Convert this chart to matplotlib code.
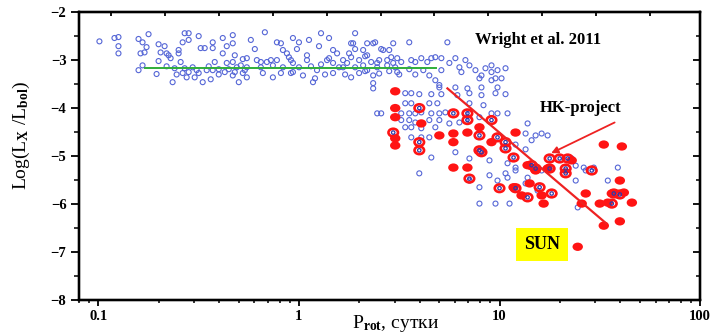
import numpy as np
import matplotlib
matplotlib.use("Agg")
import matplotlib.pyplot as plt
from matplotlib.markers import MarkerStyle
from matplotlib.transforms import Affine2D
from matplotlib.ticker import FixedLocator, MultipleLocator, NullFormatter

# шрифты: жирный Times-подобный
plt.rcParams['font.family'] = ['Liberation Serif', 'DejaVu Serif']
plt.rcParams['font.weight'] = 'bold'
plt.rcParams['mathtext.fontset'] = 'custom'
plt.rcParams['mathtext.rm'] = 'Liberation Serif:bold'
plt.rcParams['mathtext.it'] = 'Liberation Serif:bold'
plt.rcParams['mathtext.bf'] = 'Liberation Serif:bold'

# --- данные: (log10 P_rot, log Lx/Lbol) ---
# Wright et al. 2011, насыщенный режим
wright_saturated = [
    (-0.995, -2.61), (-0.92, -2.54), (-0.90, -2.52), (-0.90, -2.71), (-0.90, -2.86),
    (-0.80, -2.56), (-0.75, -2.46), (-0.78, -2.63), (-0.76, -2.73), (-0.77, -2.84),
    (-0.79, -2.86), (-0.78, -3.11), (-0.80, -3.21), (-0.71, -3.29), (-0.70, -2.67),
    (-0.67, -2.71), (-0.69, -2.84), (-0.66, -2.86), (-0.65, -2.90), (-0.70, -3.02),
    (-0.64, -2.96), (-0.63, -3.46), (-0.57, -2.44), (-0.55, -2.44), (-0.58, -2.63),
    (-0.55, -2.58), (-0.60, -2.79), (-0.60, -2.86), (-0.59, -3.04), (-0.57, -3.17),
    (-0.55, -3.25), (-0.56, -3.36), (-0.50, -2.50), (-0.49, -2.75), (-0.47, -2.75),
    (-0.43, -2.75), (-0.43, -2.63), (-0.38, -2.54), (-0.36, -2.71), (-0.38, -2.86),
    (-0.42, -3.04), (-0.36, -3.06), (-0.43, -3.21), (-0.48, -3.46), (-0.33, -2.48),
    (-0.33, -2.65), (-0.32, -2.90), (-0.33, -3.04), (-0.31, -3.15), (-0.32, -3.25),
    (-0.30, -3.46), (-0.46, -3.21), (-0.51, -3.21), (-0.37, -3.25), (-0.27, -3.21),
    (-0.26, -2.96), (-0.26, -3.36), (-0.62, -3.17), (-0.58, -3.27), (-0.53, -3.15),
    (-0.50, -3.27), (-0.45, -3.13), (-0.40, -3.19), (-0.40, -3.30), (-0.35, -3.19),
    (-0.33, -3.32), (-0.29, -3.11), (-0.28, -3.27), (-0.52, -3.36), (-0.66, -3.13),
    (-0.61, -3.30), (-0.44, -3.40),
    (-0.17, -2.42), (-0.19, -3.04), (-0.18, -3.27), (-0.14, -3.00), (-0.11, -2.63),
    (-0.09, -2.65), (-0.08, -2.79), (-0.06, -2.86), (-0.04, -3.00), (-0.03, -3.25),
    (0.00, -2.63), (-0.01, -2.77), (0.04, -2.90), (0.07, -3.46), (0.08, -3.38),
    (0.11, -2.44), (0.15, -2.54), (0.17, -2.79), (0.14, -3.00), (0.17, -3.27),
    (0.22, -3.15), (0.25, -2.86), (0.28, -2.44), (0.27, -2.65),
    (-0.28, -2.98), (-0.26, -3.15), (-0.21, -3.00), (-0.19, -3.15), (-0.16, -3.04),
    (-0.13, -3.11), (-0.11, -3.00), (-0.08, -3.15), (-0.05, -2.94), (-0.03, -3.06),
    (0.00, -3.15), (-0.04, -3.27), (-0.09, -3.27), (0.04, -3.00), (0.15, -2.96),
    (0.17, -3.06), (0.19, -2.86), (0.20, -3.15), (0.22, -3.00), (0.24, -3.06),
    (0.26, -2.94), (0.28, -3.15), (0.30, -3.00), (0.32, -3.11), (0.34, -3.21),
    (0.36, -3.04), (0.39, -3.15), (0.40, -3.00), (0.44, -3.11), (0.46, -2.94),
    (0.48, -3.15), (0.49, -3.25), (0.28, -2.77), (0.26, -2.65), (0.32, -2.79),
    (0.37, -2.65), (0.41, -2.77), (0.47, -2.65), (0.45, -2.79), (0.06, -3.13),
    (0.09, -3.21), (0.11, -3.09), (0.13, -3.30), (0.02, -3.32), (-0.13, -3.36),
    (0.23, -3.30), (0.30, -3.27), (0.26, -3.36), (0.33, -2.92), (0.10, -2.71),
    (-0.22, -2.77), (-0.24, -2.58), (-0.03, -2.54), (0.05, -2.58),
]

# Wright et al. 2011, ненасыщенный режим
wright_unsaturated = [
    (0.34, -2.65), (0.38, -2.63), (0.34, -2.90), (0.39, -3.06), (0.37, -3.32),
    (0.37, -3.48), (0.37, -3.59), (0.42, -2.79), (0.44, -3.00), (0.47, -3.06),
    (0.49, -2.96), (0.51, -3.04), (0.55, -2.63), (0.56, -3.00), (0.58, -3.04),
    (0.61, -2.96), (0.64, -3.04), (0.66, -2.96), (0.68, -2.94), (0.71, -2.96),
    (0.74, -2.63), (0.71, -3.21), (0.75, -3.06), (0.78, -2.96), (0.80, -3.15),
    (0.81, -3.25), (0.83, -3.00), (0.85, -3.11), (0.88, -3.21), (0.91, -3.32),
    (0.93, -3.17), (0.96, -3.11), (0.96, -3.25), (0.99, -3.21), (1.01, -3.38),
    (1.03, -3.17), (0.96, -3.42), (0.68, -3.42), (0.70, -3.57), (0.33, -3.23),
    (0.40, -3.28), (0.45, -3.23), (0.50, -3.30), (0.55, -3.19), (0.58, -3.30),
    (0.62, -3.21), (0.65, -3.32),
    (0.70, -3.52), (0.78, -3.57), (0.84, -3.59), (0.90, -3.38), (0.91, -3.57),
    (0.98, -3.38), (0.99, -3.57), (0.53, -3.69), (0.56, -3.69), (0.60, -3.71),
    (0.66, -3.71), (0.71, -3.71), (0.79, -3.73), (0.85, -3.69), (0.91, -3.73),
    (0.98, -3.69), (1.03, -3.71), (0.39, -4.11), (0.41, -4.11), (0.53, -3.90),
    (0.56, -3.90), (0.65, -3.90), (0.69, -3.90), (0.85, -3.90), (0.92, -3.94),
    (0.51, -4.11), (0.55, -4.11), (0.58, -4.11), (0.61, -4.09), (0.66, -4.11),
    (0.70, -4.11), (0.73, -4.09), (0.51, -4.25), (0.55, -4.25), (0.58, -4.30),
    (0.65, -4.25), (0.70, -4.25), (0.53, -4.40), (0.56, -4.40), (0.61, -4.42),
    (0.68, -4.40), (0.75, -4.32), (0.80, -4.30), (0.85, -4.25), (0.85, -4.11),
    (0.90, -4.19), (0.96, -4.11), (0.56, -4.61), (0.61, -4.61), (0.65, -4.61),
    (0.78, -4.92), (0.66, -5.03), (0.85, -5.05), (0.60, -5.36), (0.95, -5.09),
    (0.95, -5.40), (0.99, -5.51), (1.03, -5.36), (1.04, -5.15), (1.08, -5.24),
    (1.16, -4.67), (1.18, -4.57), (1.21, -4.53), (1.13, -4.53), (1.13, -5.57),
    (1.19, -5.72), (0.98, -5.99), (0.90, -5.65), (0.99, -4.11), (1.04, -4.11),
    (1.14, -4.32), (1.24, -4.57), (1.13, -4.86), (1.08, -4.76), (1.21, -5.30),
    (1.08, -5.30), (1.04, -5.45), (1.14, -5.45), (0.85, -5.51), (1.38, -5.51),
    (1.43, -5.30), (1.38, -5.20), (0.90, -5.99), (1.59, -5.24), (1.54, -5.51),
    (1.36, -5.05), (1.42, -5.24), (1.47, -5.24), (1.39, -6.07), (1.05, -5.99),
]

# HK-project: сплошные красные
hk_filled = [
    (0.48, -3.65), (0.48, -4.00), (0.48, -4.19), (0.48, -4.63), (0.48, -4.78),
    (0.61, -4.32), (0.70, -4.57), (0.77, -4.53), (0.77, -4.71), (0.84, -4.51),
    (0.84, -5.24), (0.77, -5.24), (0.90, -4.40), (0.96, -4.71), (1.08, -4.51),
    (1.14, -5.19), (1.07, -5.65), (1.11, -5.82), (1.22, -5.99), (1.18, -5.30),
    (1.24, -5.26), (1.15, -5.57), (1.21, -5.82), (1.36, -5.09), (1.52, -4.76),
    (1.61, -4.80), (1.60, -5.51), (1.43, -5.78), (1.56, -5.78), (1.62, -5.76),
    (1.50, -5.99), (1.54, -5.97), (1.66, -5.97), (1.41, -5.99), (1.60, -6.36),
    (1.52, -6.45),
]

# HK-project: звёзды, общие с Wright (красное кольцо)
hk_ring = [
    (0.47, -4.51), (0.60, -4.00), (0.60, -4.71), (0.60, -4.88), (0.77, -4.11),
    (0.84, -4.11), (0.84, -4.25), (0.90, -4.57), (0.96, -4.25), (0.99, -4.61),
    (1.03, -4.71), (1.03, -4.84), (0.90, -4.88), (1.07, -5.03), (1.16, -5.19),
    (1.18, -5.26), (1.25, -5.05), (1.30, -5.05), (1.25, -5.26), (0.85, -5.47),
    (1.00, -5.67), (1.08, -5.67), (1.14, -5.86), (1.20, -5.65), (0.91, -4.92),
    (1.33, -5.26), (1.33, -5.36), (1.46, -5.30), (1.57, -5.78), (1.60, -5.80),
    (1.56, -5.99), (1.34, -5.05), (1.26, -5.78),
]

sun_point = (1.39, -6.89)

# линии режимов
sat_line_p = [0.17, 4.8]
sat_line_l = [-3.17, -3.17]
unsat_line_p = [5.5, 34.0]
unsat_line_l = [-3.59, -6.40]

x_ticks = [0.1, 1, 10, 100]
x_tick_labels = ['0.1', '1', '10', '100']
y_ticks = [-8, -7, -6, -5, -4, -3, -2]


def split(points):
    arr = np.array(points)
    return 10 ** arr[:, 0], arr[:, 1]


fig = plt.figure(figsize=(7.18, 3.36), dpi=100)
ax = fig.add_axes([0.110, 0.107, 0.865, 0.857])

blue = '#5566d6'
red = '#ff1414'
# красные точки слегка вытянуты по горизонтали
oval = MarkerStyle('o', transform=Affine2D().scale(1.25, 1.0))

for pts in (wright_saturated, wright_unsaturated):
    px, py = split(pts)
    ax.scatter(px, py, s=13, facecolors='none', edgecolors=blue, linewidths=0.8, zorder=2)

px, py = split(hk_filled)
ax.scatter(px, py, s=36, marker=oval, color=red, edgecolors='none', zorder=3)

px, py = split(hk_ring)
ax.scatter(px, py, s=30, marker=oval, facecolors='none', edgecolors=red, linewidths=1.9, zorder=3)
ax.scatter(px, py, s=6, facecolors='none', edgecolors='#3038a8', linewidths=0.9, zorder=3)

ax.scatter([10 ** sun_point[0]], [sun_point[1]], s=36, marker=oval, color=red,
           edgecolors='none', zorder=3)

ax.plot(sat_line_p, sat_line_l, color='#2fae3a', lw=1.4, zorder=4)
ax.plot(unsat_line_p, unsat_line_l, color='#ee2222', lw=1.6, zorder=4)

# подписи
ax.text(15.6, -2.58, 'Wright et al. 2011', fontsize=12, ha='center', va='center')
ax.text(25.5, -4.0, 'HK-project', fontsize=12, ha='center', va='center')
ax.annotate('', xy=(18.1, -4.94), xytext=(37.5, -4.30),
            arrowprops=dict(arrowstyle='-|>', color='#ee2222', lw=1.3,
                            mutation_scale=10, shrinkA=0, shrinkB=0))
ax.text(16.3, -6.84, 'SUN', fontsize=13, ha='center', va='center',
        bbox=dict(boxstyle='square,pad=0.45', fc='#ffff00', ec='none'))

# оси
ax.set_xscale('log')
ax.set_xlim(0.08, 100)
ax.set_ylim(-8, -2)
ax.xaxis.set_major_locator(FixedLocator(x_ticks))
ax.set_xticklabels(x_tick_labels)
ax.xaxis.set_minor_formatter(NullFormatter())
ax.yaxis.set_major_locator(FixedLocator(y_ticks))
ax.yaxis.set_minor_locator(MultipleLocator(0.5))
ax.tick_params(axis='both', which='major', direction='out', length=6, width=1.3,
               labelsize=10.5, pad=3)
ax.tick_params(axis='both', which='minor', direction='out', length=3.5, width=1.1)
ax.tick_params(axis='x', which='major', length=4)
ax.tick_params(axis='x', which='minor', length=2.5)

ax.set_ylabel('Log(L$_{X}$ /L$_{bol}$)', fontsize=14, va='center')
ax.yaxis.set_label_coords(-0.092, 0.57)
ax.set_xlabel('P$_{rot}$, сутки', fontsize=14, va='top')
ax.xaxis.set_label_coords(0.51, -0.045)

# правая ось: засечки внутрь
right = ax.twinx()
right.set_ylim(-8, -2)
right.yaxis.set_major_locator(FixedLocator(y_ticks))
right.yaxis.set_minor_locator(MultipleLocator(0.5))
right.tick_params(axis='y', which='major', direction='in', length=5, width=1.3, labelright=False)
right.tick_params(axis='y', which='minor', direction='in', length=3, width=1.1)

# верхняя ось: равномерные засечки
top = ax.twiny()
top.set_xlim(0, 1)
top.set_xticks(np.arange(0.0515, 0.95, 0.0868))
top.tick_params(axis='x', direction='in', length=3, width=1.3, labeltop=False)

for a in (ax, right, top):
    for s in a.spines.values():
        s.set_linewidth(1.6)

fig.savefig('out.png', dpi=100)
